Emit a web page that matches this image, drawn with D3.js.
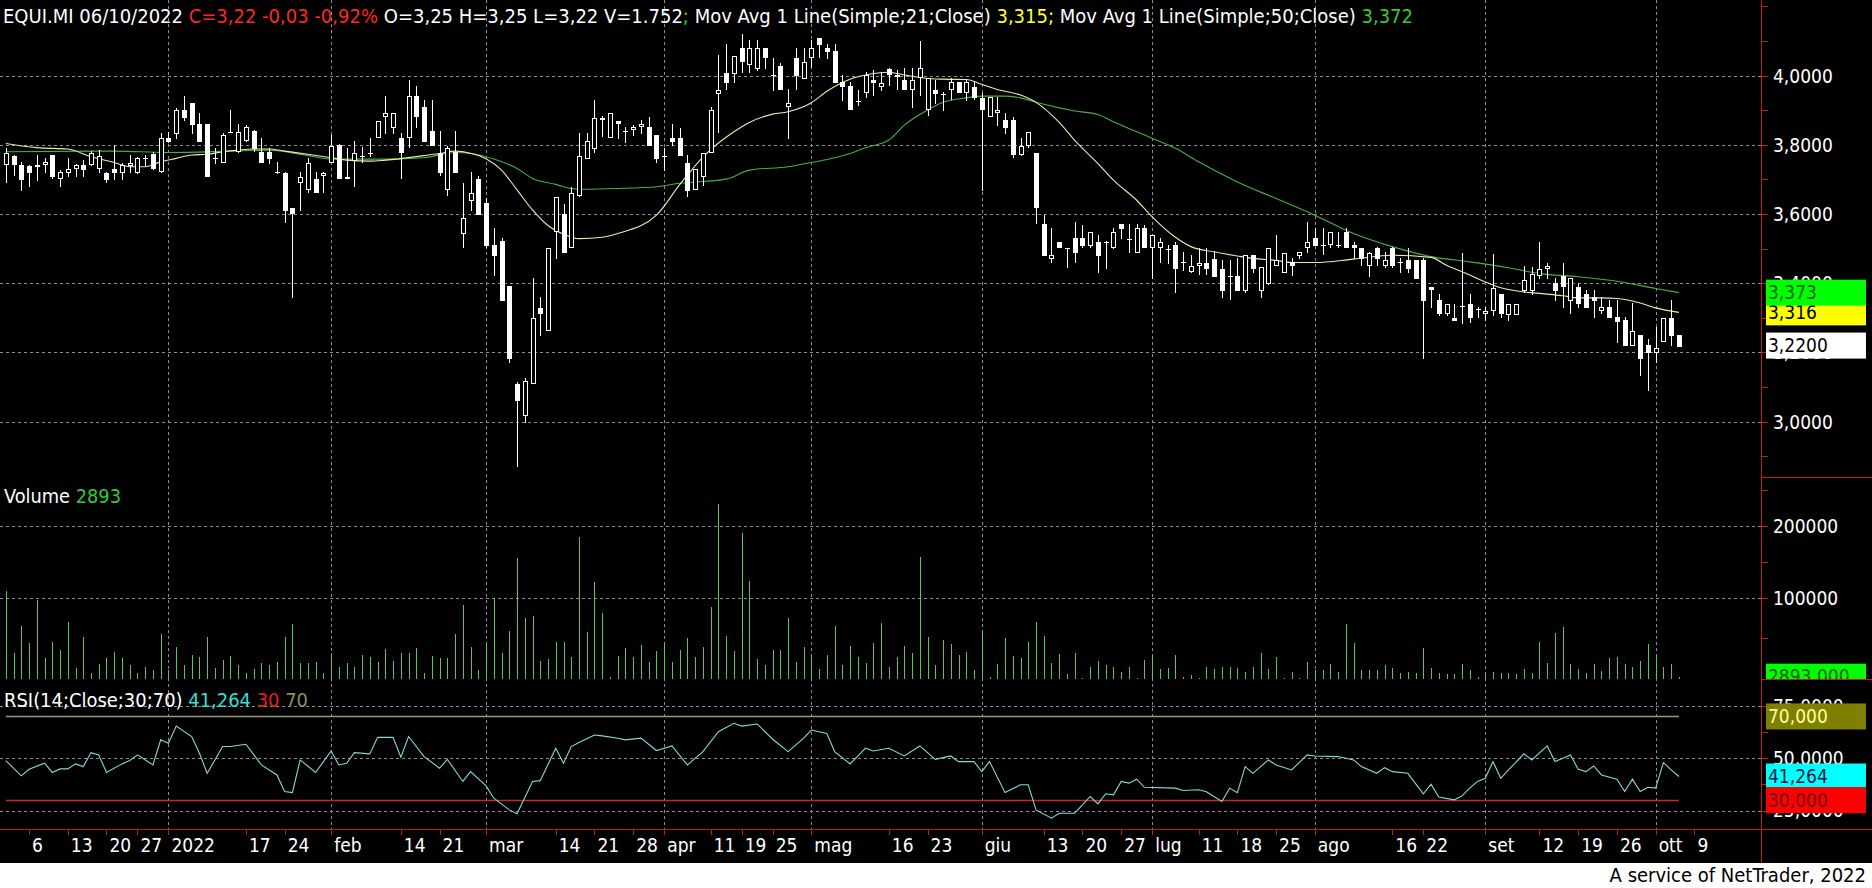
<!DOCTYPE html>
<html><head><meta charset="utf-8">
<script src="https://cdn.jsdelivr.net/npm/d3@7"></script>
<style>
html,body{margin:0;padding:0;background:#fff;}
svg{display:block;}
text{font-family:"DejaVu Sans Condensed","DejaVu Sans",sans-serif;white-space:pre;}
</style></head><body>
<svg id="chart" width="1872" height="888"></svg>
<script>
// ---------- DATA ----------
const openP = [3.744,3.769,3.742,3.740,3.742,3.745,3.771,3.703,3.722,3.732,3.742,3.744,3.732,3.720,3.729,3.722,3.742,3.722,3.761,3.775,
3.724,3.819,3.833,3.901,3.920,3.861,3.860,3.763,3.751,3.838,3.782,3.814,3.840,3.780,3.780,3.722,3.720,3.618,3.692,3.672,
3.701,3.713,3.751,3.800,3.703,3.756,3.769,3.778,3.822,3.884,3.853,3.819,3.822,3.941,3.910,3.840,3.778,3.672,3.780,3.544,
3.640,3.701,3.631,3.510,3.522,3.392,3.110,3.020,3.113,3.330,3.265,3.552,3.599,3.504,3.655,3.763,3.792,3.879,3.822,3.870,
3.840,3.845,3.855,3.851,3.830,3.767,3.819,3.819,3.749,3.672,3.711,3.780,3.951,4.009,4.007,4.079,4.033,4.021,4.079,4.002,
4.029,3.912,4.050,3.992,4.053,4.110,4.079,4.071,3.983,3.970,3.927,3.954,3.989,3.970,4.018,4.002,3.989,3.963,3.995,3.903,
3.960,3.947,3.963,3.981,3.954,3.968,3.936,3.883,3.894,3.872,3.872,3.773,3.800,3.778,3.570,3.472,3.520,3.501,3.530,3.530,
3.512,3.520,3.520,3.506,3.570,3.528,3.491,3.559,3.504,3.504,3.500,3.510,3.462,3.435,3.452,3.460,3.470,3.440,3.422,3.422,
3.380,3.481,3.380,3.402,3.452,3.433,3.462,3.483,3.504,3.530,3.510,3.515,3.510,3.549,3.510,3.501,3.452,3.501,3.452,3.501,
3.462,3.467,3.467,3.467,3.390,3.351,3.313,3.301,3.335,3.339,3.327,3.313,3.322,3.370,3.310,3.310,3.380,3.380,3.424,3.443,
3.400,3.422,3.351,3.390,3.370,3.361,3.322,3.332,3.303,3.293,3.221,3.250,3.221,3.202,3.233,3.301,3.250];
const highP = [3.790,3.772,3.751,3.742,3.771,3.761,3.771,3.727,3.761,3.744,3.756,3.782,3.785,3.722,3.800,3.747,3.771,3.766,3.771,3.780,
3.833,3.838,3.906,3.942,3.920,3.891,3.860,3.790,3.833,3.901,3.860,3.857,3.842,3.819,3.792,3.751,3.722,3.618,3.722,3.761,
3.722,3.722,3.830,3.804,3.790,3.811,3.795,3.819,3.870,3.941,3.891,3.833,3.989,3.970,3.930,3.930,3.840,3.798,3.840,3.689,
3.722,3.711,3.647,3.559,3.530,3.392,3.115,3.125,3.414,3.359,3.501,3.650,3.629,3.679,3.833,3.833,3.930,3.884,3.891,3.870,
3.853,3.857,3.872,3.881,3.830,3.790,3.859,3.849,3.771,3.730,3.778,3.910,4.060,4.092,4.058,4.120,4.103,4.103,4.079,4.050,
4.036,3.963,4.079,4.079,4.103,4.110,4.092,4.092,4.002,3.983,3.959,4.012,4.016,4.012,4.021,4.016,4.021,4.021,4.101,3.992,
3.987,3.954,3.992,3.981,3.987,3.983,3.949,3.939,3.939,3.891,3.881,3.819,3.838,3.778,3.597,3.560,3.520,3.501,3.578,3.568,
3.549,3.541,3.522,3.559,3.570,3.570,3.570,3.568,3.539,3.530,3.510,3.520,3.491,3.481,3.503,3.501,3.491,3.467,3.467,3.472,
3.481,3.481,3.448,3.501,3.541,3.489,3.472,3.491,3.578,3.559,3.559,3.549,3.549,3.560,3.520,3.501,3.491,3.504,3.491,3.506,
3.472,3.501,3.467,3.472,3.390,3.370,3.341,3.339,3.488,3.370,3.332,3.332,3.486,3.370,3.339,3.339,3.450,3.448,3.519,3.460,
3.414,3.460,3.414,3.400,3.380,3.380,3.361,3.351,3.351,3.303,3.342,3.250,3.240,3.273,3.301,3.351,3.250];
const lowP = [3.693,3.713,3.669,3.682,3.698,3.722,3.705,3.681,3.711,3.711,3.711,3.742,3.722,3.692,3.701,3.701,3.722,3.720,3.742,3.730,
3.722,3.809,3.819,3.872,3.833,3.812,3.711,3.749,3.751,3.836,3.780,3.811,3.782,3.751,3.749,3.718,3.578,3.361,3.612,3.665,
3.663,3.663,3.751,3.703,3.703,3.682,3.751,3.769,3.822,3.833,3.833,3.703,3.795,3.853,3.812,3.800,3.713,3.655,3.722,3.504,
3.612,3.600,3.506,3.424,3.351,3.173,2.873,3.000,3.113,3.252,3.265,3.472,3.491,3.504,3.653,3.763,3.780,3.825,3.822,3.819,
3.809,3.830,3.833,3.800,3.751,3.727,3.800,3.771,3.653,3.672,3.684,3.780,3.838,3.963,3.983,4.012,4.012,4.016,4.021,3.959,
3.963,3.819,3.963,3.992,4.026,4.053,4.050,3.983,3.930,3.903,3.915,3.939,3.944,3.959,3.973,3.963,3.963,3.910,3.944,3.887,
3.920,3.901,3.934,3.954,3.930,3.934,3.669,3.883,3.857,3.833,3.766,3.771,3.795,3.573,3.483,3.462,3.504,3.448,3.462,3.506,
3.506,3.433,3.443,3.503,3.530,3.491,3.491,3.504,3.414,3.462,3.460,3.375,3.438,3.433,3.428,3.428,3.422,3.361,3.356,3.380,
3.375,3.433,3.361,3.399,3.452,3.433,3.424,3.472,3.491,3.512,3.486,3.506,3.506,3.504,3.472,3.453,3.422,3.453,3.448,3.448,
3.433,3.433,3.414,3.183,3.332,3.308,3.308,3.293,3.284,3.289,3.303,3.293,3.308,3.303,3.293,3.310,3.375,3.370,3.414,3.414,
3.351,3.332,3.313,3.332,3.332,3.303,3.313,3.303,3.231,3.221,3.221,3.134,3.092,3.173,3.233,3.221,3.220];
const closeP = [3.777,3.744,3.701,3.722,3.740,3.751,3.711,3.722,3.730,3.742,3.730,3.778,3.769,3.701,3.722,3.742,3.749,3.761,3.761,3.732,
3.819,3.811,3.901,3.881,3.861,3.812,3.711,3.761,3.830,3.838,3.838,3.851,3.792,3.751,3.763,3.722,3.613,3.602,3.708,3.749,
3.663,3.720,3.798,3.703,3.708,3.778,3.769,3.778,3.870,3.891,3.891,3.780,3.941,3.884,3.812,3.800,3.722,3.790,3.722,3.590,
3.660,3.600,3.510,3.481,3.351,3.183,3.062,3.118,3.301,3.313,3.501,3.650,3.491,3.660,3.769,3.811,3.879,3.876,3.891,3.862,
3.840,3.851,3.860,3.800,3.763,3.767,3.811,3.771,3.669,3.730,3.778,3.901,3.960,3.983,4.058,4.042,4.079,4.079,4.053,4.002,
3.963,3.920,4.002,4.039,4.079,4.092,4.072,3.983,3.970,3.903,3.927,4.002,3.983,3.980,4.004,4.000,3.963,3.989,4.021,3.992,
3.951,3.947,3.981,3.954,3.981,3.939,3.903,3.939,3.901,3.853,3.773,3.798,3.838,3.621,3.483,3.481,3.504,3.501,3.491,3.512,
3.549,3.483,3.520,3.549,3.560,3.528,3.559,3.504,3.539,3.520,3.500,3.443,3.462,3.450,3.460,3.443,3.422,3.380,3.422,3.380,
3.481,3.443,3.448,3.501,3.467,3.489,3.452,3.491,3.520,3.512,3.510,3.549,3.510,3.504,3.504,3.472,3.489,3.472,3.467,3.452,
3.462,3.443,3.414,3.351,3.383,3.313,3.339,3.293,3.335,3.303,3.327,3.320,3.386,3.313,3.339,3.339,3.409,3.428,3.440,3.450,
3.380,3.393,3.414,3.342,3.332,3.351,3.332,3.303,3.292,3.221,3.262,3.183,3.202,3.214,3.301,3.252,3.220];
const volume = [109700,31570,65190,43870,97350,25420,45920,35670,70520,13120,52070,6970,18450,25420,33620,25420,17220,6970,15170,11070,
55350,11070,39770,17220,29520,27470,51250,13120,23370,28290,17220,6970,11890,20090,17220,21320,52070,67650,20090,20090,
21320,6970,31570,15170,20090,15170,29520,27470,21320,36490,22550,32390,32390,37720,6970,28290,25420,25420,55350,91020,
39770,11070,44690,100000,32390,59450,155560,74620,77490,22550,24190,45920,45920,27470,184730,58220,122220,81590,2870,28290,
37720,26650,41820,21320,34850,44690,21320,35670,50020,27470,39770,88970,230100,52890,34850,190290,123610,24190,17220,35670,
35670,74620,21320,38950,29520,11890,29520,65190,17220,40590,27470,19270,43870,69290,15170,26650,40590,32390,156020,52070,
17220,47970,43050,29520,33620,11070,60270,2050,18040,50840,28290,25420,45920,70520,53300,20090,30750,6150,32390,820,
15170,22550,17220,14350,9020,15170,820,23370,29520,11890,13120,29520,2870,4920,820,15170,11890,14350,15170,13120,
9020,15170,31570,11890,26650,820,9020,820,21320,11070,11070,18450,9020,67240,43870,11070,11070,11070,17220,13120,
6970,9020,6970,38540,13940,7790,6150,6150,18450,11070,2870,9020,9020,6970,6970,6150,11890,7790,45920,20090,
56170,63550,18040,11890,6970,18040,9840,25420,27470,18040,15170,22550,43050,29520,15170,18040,2893];
const ma21Idx = [0,4,8,11,14,16,18,20,22,24,26,28,30,32,34,36,39,42,44,47,49,54,56,58,60,62,64,66,68,70,72,74,77,79,84,87,90,94,96,99,101,104,106,109,111,114,116,119,121,124,126,128,131,133,136,138,141,143,146,148,151,153,156,159,161,164,166,169,174,179,184,186,189,191,193,196,198,201,203,206,208,211,213,216];
const ma21Val = [3.804,3.792,3.788,3.766,3.749,3.737,3.737,3.751,3.761,3.771,3.773,3.780,3.785,3.788,3.788,3.782,3.773,3.763,3.756,3.753,3.756,3.769,3.775,3.782,3.776,3.760,3.727,3.670,3.612,3.567,3.542,3.529,3.533,3.544,3.597,3.685,3.765,3.838,3.865,3.889,3.896,3.922,3.955,3.990,4.002,4.010,4.002,3.992,3.990,3.989,3.975,3.960,3.944,3.923,3.865,3.813,3.746,3.698,3.640,3.592,3.533,3.506,3.491,3.479,3.472,3.466,3.460,3.460,3.470,3.481,3.475,3.452,3.424,3.404,3.387,3.375,3.371,3.364,3.358,3.358,3.356,3.343,3.329,3.316];
const ma50Idx = [0,14,21,29,34,39,42,49,54,58,60,63,66,68,71,73,74,79,84,87,93,96,101,104,109,111,114,116,119,121,124,126,129,131,133,138,141,143,148,151,154,159,164,169,174,179,184,189,194,198,203,208,213,216];
const ma50Val = [3.780,3.782,3.778,3.782,3.785,3.769,3.759,3.759,3.763,3.778,3.775,3.759,3.732,3.703,3.686,3.674,3.672,3.674,3.679,3.689,3.701,3.727,3.737,3.749,3.775,3.792,3.814,3.857,3.901,3.923,3.936,3.941,3.941,3.936,3.923,3.898,3.888,3.867,3.819,3.790,3.751,3.693,3.645,3.597,3.544,3.506,3.477,3.462,3.445,3.428,3.419,3.406,3.385,3.373];
const rsiIdx = [0,2,3,5,6,7,8,9,10,11,12,13,15,16,17,19,20,21,22,24,25,26,28,29,31,33,35,36,37,38,40,41,42,43,44,45,47,48,50,51,52,54,56,57,59,60,62,63,65,66,68,69,71,72,73,74,76,77,79,80,82,84,86,88,90,92,94,95,97,99,101,103,104,106,107,109,111,112,114,116,118,120,122,123,125,126,127,129,131,132,133,135,136,138,140,141,142,143,144,145,146,147,151,152,154,155,157,158,159,160,161,163,164,166,168,169,172,174,175,177,178,179,181,183,184,185,187,188,189,190,191,192,193,194,196,197,199,200,202,203,204,205,206,208,209,210,211,212,213,214,215,216];
const rsiVal = [48.9,41.6,44.7,47.6,43.2,44.9,44.9,47.3,46.0,52.7,51.6,43.2,47.3,48.9,51.6,46.8,58.8,57.2,65.4,60.4,52.4,42.8,55.6,55.6,56.7,46.8,42.0,34.1,33.6,49.2,43.2,48.4,53.5,46.8,47.6,52.7,52.1,60.0,60.0,50.5,60.4,50.8,45.2,49.5,38.9,43.6,36.8,30.9,25.3,23.4,38.9,39.3,54.8,47.6,55.6,57.5,61.1,60.7,59.6,58.8,59.6,53.7,55.9,46.8,53.2,62.7,66.7,65.4,66.4,59.1,53.2,59.6,63.5,61.9,53.2,47.3,54.8,53.5,54.8,51.1,55.9,49.5,51.1,48.4,48.4,43.6,48.4,33.6,37.3,37.3,25.3,21.3,23.7,23.7,31.7,28.2,33.0,32.5,38.9,38.1,40.0,36.1,35.7,34.6,34.9,34.0,29.3,35.7,33.5,46.0,42.8,49.2,46.8,44.4,51.6,51.1,50.8,49.2,46.0,42.8,45.5,43.6,42.8,33.0,37.6,31.4,30.1,32.0,35.7,38.9,40.4,48.4,40.4,44.4,52.1,49.2,55.9,48.4,51.6,44.7,43.6,46.3,42.0,40.0,34.1,40.0,34.1,36.1,35.7,47.9,44.4,41.264];
const tickIdx = [3,8,13,17,21,31,36,42,51,56,62,71,76,81,85,91,95,99,104,114,119,126,134,139,144,148,154,159,164,169,179,183,191,198,203,208,213,218];
const tickLabels = ["6","13","20","27","2022","17","24","feb","14","21","mar","14","21","28","apr","11","19","25","mag","16","23","giu","13","20","27","lug","11","18","25","ago","16","22","set","12","19","26","ott","9"];
const monthIdx = [21,42,62,85,104,126,148,169,191,213];
const priceTicks = [3.0,3.2,3.4,3.6,3.8,4.0];
const priceMinor = [2.9,3.1,3.3,3.5,3.7,3.9,4.1,4.2];
const volTicks = [100000,200000];
const volMinor = [50000,150000,250000];
const rsiTicks = [25,50,75];
const rsiMinor = [37.5,62.5];
const header = [["EQUI.MI 06/10/2022 ","#ffffff"],["C=3,22 -0,03 -0,92%","#ff2626"],[" O=3,25 H=3,25 L=3,22 V=1.752","#ffffff"],["; ","#33cc33"],
  ["Mov Avg 1 Line(Simple;21;Close) ","#ffffff"],["3,315","#ffff33"],["; ","#ffff33"],["Mov Avg 1 Line(Simple;50;Close) ","#ffffff"],["3,372","#33cc33"]];
const volLabel = [["Volume ","#ffffff"],["2893","#33cc33"]];
const rsiLabel = [["RSI(14;Close;30;70) ","#ffffff"],["41,264","#33dddd"],[" 30","#e02020"],[" 70","#8f8f60"]];
const priceBoxes = [{v:3.316,t:"3,316",bg:"#ffff00",fg:"#000000"},{v:3.373,t:"3,373",bg:"#00ff00",fg:"#006400"},{v:3.22,t:"3,2200",bg:"#ffffff",fg:"#000000"}];
const volBoxes = [{v:2893,t:"2893,000",bg:"#00ff00",fg:"#006400"}];
const rsiBoxes = [{v:70,t:"70,000",bg:"#808000",fg:"#ffff99"},{v:41.264,t:"41,264",bg:"#00ffff",fg:"#002244"},{v:30,t:"30,000",bg:"#ff0000",fg:"#700000"}];
const rsiLevels = [{v:70,c:"#9a9a76"},{v:30,c:"#c82828"}];

// ---------- LAYOUT ----------
const W=1872,H=888,R=1761,AX=863;
const P={top:0,bottom:477},V={top:477,bottom:679},Q={top:679,bottom:829};
const RED="#c41a1a", FS=19;
const n = closeP.length;
const x = d3.scaleLinear().domain([0,216]).range([5.8,1678.9]);
const yP = d3.scaleLinear().domain([3,4]).range([421.7,75.7]);
const yV = d3.scaleLinear().domain([0,100000,200000]).range([679,597.7,525.7]);
const yR = d3.scaleLinear().domain([25,75]).range([810.5,706]);
const f4 = v => d3.format(".4f")(v).replace(".",",");
const px = v => Math.round(v)+0.5;

const svg = d3.select("#chart");
svg.append("rect").attr("width",W).attr("height",H).attr("fill","#fff");
svg.append("rect").attr("width",W).attr("height",AX).attr("fill","#000");

const defs = svg.append("defs");
function clip(id,x0,y0,w,h){defs.append("clipPath").attr("id",id).append("rect").attr("x",x0).attr("y",y0).attr("width",w).attr("height",h);}
clip("cP",0,P.top,R,P.bottom-P.top);
clip("cV",0,V.top,R,V.bottom-V.top);
clip("cQ",0,Q.top,R,Q.bottom-Q.top);
clip("cVR",R,V.top,W-R,V.bottom-V.top);

// ---------- GRID ----------
const grid = svg.append("g").attr("stroke","#8e8e8e").attr("stroke-dasharray","3,3").attr("shape-rendering","crispEdges");
grid.selectAll(".gp").data(priceTicks).join("line").attr("x1",0).attr("x2",R).attr("y1",d=>px(yP(d))).attr("y2",d=>px(yP(d)));
grid.selectAll(".gv").data(volTicks).join("line").attr("x1",0).attr("x2",R).attr("y1",d=>px(yV(d))).attr("y2",d=>px(yV(d)));
grid.selectAll(".gr").data(rsiTicks).join("line").attr("x1",0).attr("x2",R).attr("y1",d=>px(yR(d))).attr("y2",d=>px(yR(d)));
grid.selectAll(".gm").data(monthIdx).join("line").attr("y1",0).attr("y2",Q.bottom).attr("x1",d=>px(x(d))).attr("x2",d=>px(x(d)));

// ---------- MOVING AVERAGES ----------
const maG = svg.append("g").attr("clip-path","url(#cP)").attr("fill","none");
const line = d3.line().curve(d3.curveMonotoneX);
maG.append("path").attr("d",line(ma50Idx.map((d,k)=>[x(d),yP(ma50Val[k])]))).attr("stroke","#46b046").attr("stroke-width",1.1);
maG.append("path").attr("d",line(ma21Idx.map((d,k)=>[x(d),yP(ma21Val[k])]))).attr("stroke","#ececa8").attr("stroke-width",1.1);

// ---------- CANDLES ----------
const cg = svg.append("g").attr("clip-path","url(#cP)").attr("shape-rendering","crispEdges");
const idx = d3.range(n);
cg.selectAll(".wick").data(idx).join("line")
  .attr("x1",i=>Math.round(x(i))+0.5).attr("x2",i=>Math.round(x(i))+0.5)
  .attr("y1",i=>Math.round(yP(highP[i]))).attr("y2",i=>Math.round(yP(lowP[i]))+1)
  .attr("stroke","#fff");
idx.forEach(i=>{
  const cx = Math.round(x(i));
  const o=openP[i], c=closeP[i];
  const t = Math.round(yP(Math.max(o,c))), b = Math.round(yP(Math.min(o,c)));
  if (b-t < 1) {
    cg.append("line").attr("x1",cx-2).attr("x2",cx+3).attr("y1",t+0.5).attr("y2",t+0.5).attr("stroke","#fff");
  } else if (c > o) {
    cg.append("rect").attr("x",cx-1.5).attr("y",t+0.5).attr("width",4).attr("height",b-t).attr("fill","#000").attr("stroke","#fff");
  } else {
    cg.append("rect").attr("x",cx-2).attr("y",t).attr("width",5).attr("height",b-t+1).attr("fill","#fff");
  }
});

// ---------- VOLUME ----------
svg.append("g").attr("clip-path","url(#cV)").attr("shape-rendering","crispEdges")
  .selectAll("line").data(idx).join("line")
  .attr("x1",i=>Math.round(x(i))+0.5).attr("x2",i=>Math.round(x(i))+0.5)
  .attr("y1",V.bottom).attr("y2",i=>Math.round(yV(volume[i])))
  .attr("stroke","#5ec45e");

// ---------- RSI ----------
const rg = svg.append("g").attr("clip-path","url(#cQ)");
rsiLevels.forEach(l=>{
  rg.append("line").attr("x1",x(0)).attr("x2",x(n-1)).attr("y1",px(yR(l.v))).attr("y2",px(yR(l.v)))
    .attr("stroke",l.c).attr("stroke-width",1.6);
});
rg.append("path").attr("d",d3.line()(rsiIdx.map((d,k)=>[x(d),yR(rsiVal[k])])))
  .attr("fill","none").attr("stroke","#86d8d8").attr("stroke-width",1.1);

// ---------- AXES (right) ----------
const ax = svg.append("g").attr("shape-rendering","crispEdges");
ax.append("line").attr("x1",R+0.5).attr("x2",R+0.5).attr("y1",0).attr("y2",AX).attr("stroke",RED);
[P.bottom,V.bottom].forEach(v=>ax.append("line").attr("x1",R).attr("x2",W).attr("y1",v+0.5).attr("y2",v+0.5).attr("stroke",RED));
ax.append("line").attr("x1",0).attr("x2",W).attr("y1",Q.bottom+0.5).attr("y2",Q.bottom+0.5).attr("stroke",RED);
function rticks(vals,scale){
  ax.selectAll(null).data(vals).join("line").attr("x1",R).attr("x2",R+7)
    .attr("y1",d=>px(scale(d))).attr("y2",d=>px(scale(d))).attr("stroke",RED);
}
rticks(priceTicks.concat(priceMinor),yP);
rticks(volTicks.concat(volMinor),yV);
rticks(rsiTicks.concat(rsiMinor),yR);

const lab = svg.append("g").attr("fill","#fff").attr("font-size",FS);
lab.selectAll(".pl").data(priceTicks).join("text").attr("x",R+12).attr("y",d=>yP(d)).attr("dy","0.36em").text(d=>f4(d));
lab.selectAll(".vl").data(volTicks).join("text").attr("x",R+12).attr("y",d=>yV(d)).attr("dy","0.36em").text(d=>String(d));
lab.selectAll(".rl").data(rsiTicks).join("text").attr("x",R+12).attr("y",d=>yR(d)).attr("dy","0.36em").text(d=>f4(d));

// value boxes
function boxes(data,scale,clipId){
  const g = svg.append("g");
  if (clipId) g.attr("clip-path","url(#"+clipId+")");
  data.forEach(d=>{
    const yc = scale(d.v);
    g.append("rect").attr("x",R+5).attr("y",yc-13).attr("width",100).attr("height",26).attr("fill",d.bg);
    g.append("text").attr("x",R+7).attr("y",yc).attr("dy","0.36em").attr("font-size",FS).attr("fill",d.fg).text(d.t);
  });
}
boxes(priceBoxes,yP,null);
boxes(volBoxes,yV,"cVR");
boxes(rsiBoxes,yR,null);

// ---------- DATE AXIS ----------
const dg = svg.append("g");
dg.selectAll("line").data(tickIdx).join("line")
  .attr("x1",d=>px(x(d))).attr("x2",d=>px(x(d))).attr("y1",Q.bottom).attr("y2",Q.bottom+6)
  .attr("stroke",RED).attr("shape-rendering","crispEdges");
dg.selectAll("text").data(tickIdx).join("text")
  .attr("x",d=>x(d)+3).attr("y",852).attr("font-size",FS).attr("fill","#fff")
  .text((d,k)=>tickLabels[k]);

// ---------- TITLES ----------
function multi(parts,x0,y0,len){
  const t = svg.append("text").attr("x",x0).attr("y",y0).attr("font-size",FS);
  if (len) t.attr("textLength",len).attr("lengthAdjust","spacingAndGlyphs");
  parts.forEach(p=>t.append("tspan").attr("fill",p[1]).text(p[0]));
}
multi(header,3,23,1410);
multi(volLabel,4,503,117);
multi(rsiLabel,4,707,304);

svg.append("text").attr("x",1866).attr("y",882).attr("text-anchor","end").attr("font-size",20).attr("fill","#000")
  .text("A service of NetTrader, 2022");
</script>
</body></html>
